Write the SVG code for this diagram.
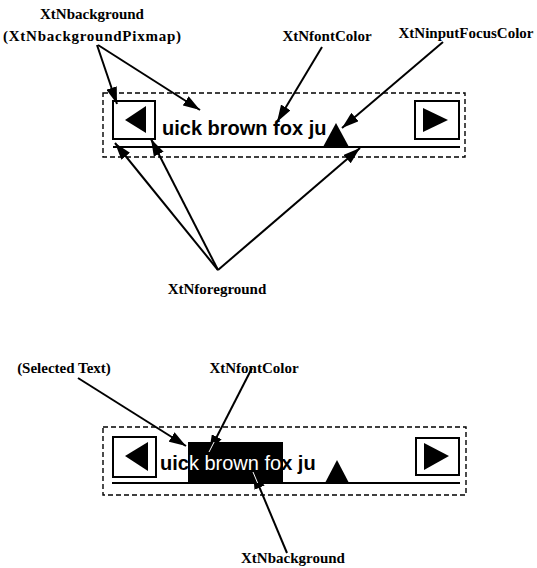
<svg xmlns="http://www.w3.org/2000/svg" width="537" height="568" viewBox="0 0 537 568">
  <style>
    .label { font-family: "Liberation Serif", "Times New Roman", serif; font-weight: bold; font-size: 15px; fill: #000; text-anchor: middle; }
    .field { font-family: "Liberation Sans", Arial, sans-serif; font-size: 20px; font-weight: bold; fill: #000; }
    .frame { fill: none; stroke: #000; stroke-width: 1.4; stroke-dasharray: 5 3; }
    .box { fill: #fff; stroke: #000; stroke-width: 2; }
    .rule { stroke: #000; stroke-width: 2; }
    .conn { fill: none; stroke: #000; stroke-width: 2; marker-end: url(#head); }
    .conn-w { fill: none; stroke: #fff; stroke-width: 1; }
  </style>
  <defs>
    <marker id="head" markerUnits="userSpaceOnUse" markerWidth="17" markerHeight="11" refX="17" refY="5.5" orient="auto">
      <path d="M0,0 L17,5.5 L0,11 z" fill="#000"/>
    </marker>
    <clipPath id="sel">
      <rect x="188" y="442" width="95" height="41"/>
    </clipPath>
  </defs>
  <rect width="537" height="568" fill="#fff"/>

  <!-- upper text field -->
  <g id="field-top">
    <rect class="frame" x="103" y="93" width="362" height="64"/>
    <rect class="box" x="113" y="101" width="42" height="38"/>
    <polygon points="125,120 146,106 146,133" fill="#000"/>
    <rect class="box" x="415" y="101" width="44" height="38"/>
    <polygon points="423,108 423,132 448,120" fill="#000"/>
    <line class="rule" x1="113" y1="147" x2="460" y2="147"/>
    <text class="field" x="162" y="135">uick brown fox ju</text>
    <polygon points="323,147 349,147 336,123" fill="#000"/>
  </g>

  <!-- lower text field with selection -->
  <g id="field-bottom">
    <rect class="frame" x="103" y="427" width="363" height="68"/>
    <rect class="box" x="113" y="437" width="43" height="40"/>
    <polygon points="125,456 148,442 148,471" fill="#000"/>
    <rect class="box" x="416" y="438" width="43" height="37"/>
    <polygon points="424,443 424,470 449,456" fill="#000"/>
    <line class="rule" x1="112" y1="483" x2="460" y2="483"/>
    <rect x="188" y="442" width="95" height="41" fill="#000"/>
    <text class="field" x="160" y="470">uic<tspan font-weight="normal" fill="#fff">k brown fo</tspan>x ju</text>
    <polygon points="325,483 349,483 337,460" fill="#000"/>
  </g>

  <!-- labels -->
  <g id="lbl-background-top">
    <text class="label" x="92" y="19">XtNbackground</text>
    <text class="label" x="92" y="41" textLength="178" lengthAdjust="spacing">(XtNbackgroundPixmap)</text>
  </g>
  <g id="lbl-fontcolor-top"><text class="label" x="327" y="41">XtNfontColor</text></g>
  <g id="lbl-focus"><text class="label" x="466" y="38">XtNinputFocusColor</text></g>
  <g id="lbl-foreground"><text class="label" x="217" y="294">XtNforeground</text></g>
  <g id="lbl-selected"><text class="label" x="64" y="373">(Selected Text)</text></g>
  <g id="lbl-fontcolor-bottom"><text class="label" x="254" y="373">XtNfontColor</text></g>
  <g id="lbl-background-bottom"><text class="label" x="293" y="563">XtNbackground</text></g>

  <!-- connectors -->
  <g id="connectors">
    <line class="conn" x1="97" y1="45" x2="117" y2="104"/>
    <line class="conn" x1="98" y1="45" x2="200" y2="110"/>
    <line class="conn" x1="322" y1="47" x2="277" y2="122"/>
    <line class="conn" x1="443" y1="42" x2="342" y2="128"/>
    <line class="conn" x1="218" y1="270" x2="115" y2="143"/>
    <line class="conn" x1="218" y1="270" x2="151" y2="139"/>
    <line class="conn" x1="218" y1="270" x2="360" y2="148"/>
    <line class="conn" x1="78" y1="378" x2="186" y2="446"/>
    <line class="conn" x1="252" y1="368" x2="209" y2="452"/>
    <line class="conn" x1="287" y1="553" x2="253" y2="472"/>
    <!-- shafts showing through the selection highlight -->
    <g clip-path="url(#sel)">
      <line class="conn-w" x1="252" y1="368" x2="209" y2="452"/>
      <line class="conn-w" x1="287" y1="553" x2="253" y2="472"/>
    </g>
  </g>
</svg>
